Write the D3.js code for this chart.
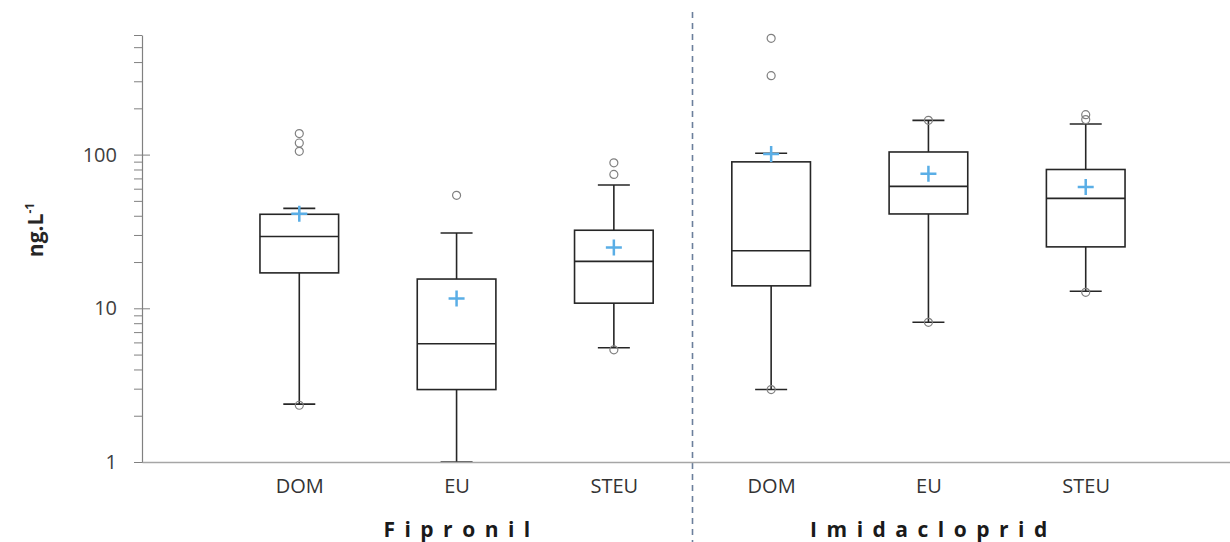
<!DOCTYPE html>
<html>
<head>
<meta charset="utf-8">
<script src="https://cdn.jsdelivr.net/npm/d3@7"></script>
<style>
  body { margin: 0; background: #fff; }
  svg { display: block; font-family: 'Open Sans', sans-serif; }
</style>
</head>
<body>
<div id="chart"></div>
<script>
// Compounds and sampling sites (x-axis bands).
const groups = ['Fipronil', 'Imidacloprid'];
const sites = ['DOM', 'EU', 'STEU'];

// Box statistics in ng.L-1, one entry per group/site, in order.
const lowWhisker  = [2.38, 1.0, 5.54, 2.96, 8.11, 12.9];
const q1          = [17.0, 2.96, 10.8, 14.0, 41.1, 25.1];
const median      = [29.3, 5.88, 20.2, 23.7, 62.1, 51.9];
const q3          = [40.9, 15.5, 32.2, 89.7, 104, 80];
const highWhisker = [44.7, 30.9, 63.4, 102, 167, 158];
const mean        = [41.3, 11.6, 24.9, 101, 75, 61.5];
// Individual points (outliers and extreme values).
const points = [
  [137, 119, 105, 2.34],
  [54.3],
  [88.4, 74.3, 5.37],
  [571, 326, 2.96],
  [167, 8.11],
  [182, 169, 12.7]
];

const majorTicks = [1, 10, 100];
const minorTicks = [2, 3, 4, 5, 6, 7, 8, 9, 20, 30, 40, 50, 60, 70, 80, 90, 200, 300, 400, 500, 600];

const width = 1230, height = 542;
const margins = {top: 35, left: 142, bottom: 80};

const keys = [];
groups.forEach(g => sites.forEach(s => keys.push(g + '|' + s)));
const boxes = keys.map((k, i) => ({
  key: k, lo: lowWhisker[i], q1: q1[i], med: median[i], q3: q3[i],
  hi: highWhisker[i], mean: mean[i], pts: points[i]
}));

const svg = d3.select('#chart').append('svg')
  .attr('width', width)
  .attr('height', height);

const x = d3.scalePoint()
  .domain(keys)
  .range([margins.left, 1243])
  .padding(1);

const y = d3.scaleLog()
  .domain([1, 600])
  .range([height - margins.bottom, margins.top]);

const boxW = x.step() / 2;
const capW = 32;

// Minor ticks
svg.append('g')
  .attr('transform', `translate(${margins.left}, 0)`)
  .call(d3.axisLeft(y).tickValues(minorTicks).tickSize(8).tickSizeOuter(0).tickFormat(''))
  .call(g => g.selectAll('line').attr('stroke', '#808080'))
  .call(g => g.select('.domain').attr('stroke', '#808080').attr('stroke-width', 1.2));

// Major ticks, crossing the axis
svg.append('g')
  .attr('transform', `translate(${margins.left}, 0)`)
  .call(d3.axisLeft(y).tickValues(majorTicks).tickSize(8).tickPadding(17).tickSizeOuter(0)
    .tickFormat(d3.format('d')))
  .call(g => g.select('.domain').remove())
  .call(g => g.selectAll('line').attr('x1', 8).attr('stroke', '#808080'))
  .call(g => g.selectAll('text')
    .attr('font-family', "'Open Sans', sans-serif")
    .attr('font-size', '20px')
    .attr('fill', '#404040'));

// Y label
svg.append('text')
  .attr('transform', `translate(43, 230) rotate(-90)`)
  .attr('text-anchor', 'middle')
  .attr('font-size', '21px')
  .attr('font-weight', 'bold')
  .attr('fill', '#262626')
  .call(t => {
    t.append('tspan').text('ng.L');
    t.append('tspan').attr('font-size', '12px').attr('dy', -9).text('-1');
  });

// Divider between compounds
const divX = (x(keys[2]) + x(keys[3])) / 2;
svg.append('line')
  .attr('x1', divX).attr('x2', divX)
  .attr('y1', 12).attr('y2', height)
  .attr('stroke', '#6b7f9c')
  .attr('stroke-width', 1.6)
  .attr('stroke-dasharray', '6,5');

const boxG = svg.selectAll('.box')
  .data(boxes)
  .enter()
  .append('g')
    .attr('class', 'box')
    .attr('transform', d => `translate(${x(d.key)}, 0)`);

const ink = '#262626';

// Whiskers
boxG.append('line')
  .attr('x1', 0).attr('x2', 0)
  .attr('y1', d => y(d.lo)).attr('y2', d => y(d.hi))
  .attr('stroke', ink).attr('stroke-width', 1.6);

boxG.selectAll('.cap')
  .data(d => [d.lo, d.hi])
  .enter()
  .append('line')
    .attr('x1', -capW / 2).attr('x2', capW / 2)
    .attr('y1', d => y(d)).attr('y2', d => y(d))
    .attr('stroke', ink).attr('stroke-width', 1.6);

// Box
boxG.append('rect')
  .attr('x', -boxW / 2)
  .attr('width', boxW)
  .attr('y', d => y(d.q3))
  .attr('height', d => y(d.q1) - y(d.q3))
  .attr('fill', 'white')
  .attr('stroke', ink)
  .attr('stroke-width', 1.6);

boxG.append('line')
  .attr('x1', -boxW / 2).attr('x2', boxW / 2)
  .attr('y1', d => y(d.med)).attr('y2', d => y(d.med))
  .attr('stroke', ink).attr('stroke-width', 1.6);

// Points
boxG.selectAll('circle')
  .data(d => d.pts)
  .enter()
  .append('circle')
    .attr('cx', 0)
    .attr('cy', d => y(d))
    .attr('r', 4)
    .attr('fill', 'none')
    .attr('stroke', '#808080')
    .attr('stroke-width', 1.2);

// Mean markers
const plus = 8;
boxG.append('path')
  .attr('d', d => `M${-plus},${y(d.mean)}H${plus}M0,${y(d.mean) - plus}V${y(d.mean) + plus}`)
  .attr('stroke', '#5aaee6')
  .attr('stroke-width', 2.5)
  .attr('fill', 'none');

// X axis with site labels
svg.append('g')
  .attr('transform', `translate(0, ${height - margins.bottom})`)
  .call(d3.axisBottom(x).tickSize(0).tickSizeOuter(0).tickPadding(17)
    .tickFormat(d => d.split('|')[1]))
  .call(g => g.select('.domain').attr('stroke', '#a6a6a6').attr('stroke-width', 1.6))
  .call(g => g.selectAll('text')
    .attr('font-family', "'Open Sans', sans-serif")
    .attr('font-size', '20px')
    .attr('fill', '#333'));

// Compound labels
svg.selectAll('.group-label')
  .data(groups)
  .enter()
  .append('text')
    .attr('class', 'group-label')
    .attr('x', g => x(g + '|' + sites[1]) + 5)
    .attr('y', 537)
    .attr('text-anchor', 'middle')
    .attr('font-size', '21px')
    .attr('font-weight', 'bold')
    .attr('letter-spacing', '9.5px')
    .attr('fill', '#1a1a1a')
    .text(g => g);
</script>
</body>
</html>
